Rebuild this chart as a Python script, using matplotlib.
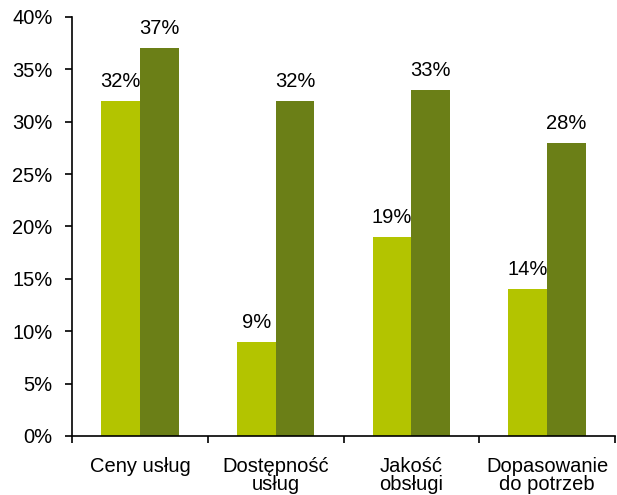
import matplotlib
matplotlib.use("Agg")
import matplotlib.pyplot as plt
import numpy as np

categories = ["Ceny usług", "Dostępność\nusług", "Jakość\nobsługi", "Dopasowanie\ndo potrzeb"]
series_a = [32, 9, 19, 14]
series_b = [37, 32, 33, 28]
yticks = [0, 5, 10, 15, 20, 25, 30, 35, 40]

plt.rcParams['font.family'] = ['Liberation Sans', 'DejaVu Sans']

fig = plt.figure(figsize=(6.17, 4.95), dpi=100)
ax = fig.add_axes([0.1167, 0.1192, 0.8801, 0.8465])

x = np.arange(len(categories))
w = 0.285
light = "#b3c400"
dark = "#6b7f17"
ax.bar(x - w / 2, series_a, width=w, color=light, linewidth=0)
ax.bar(x + w / 2, series_b, width=w, color=dark, linewidth=0)

fs = 14.5
for xi, v in zip(x - w / 2, series_a):
    ax.text(xi, v + 0.95, f"{v}%", ha="center", va="bottom", fontsize=fs)
for xi, v in zip(x + w / 2, series_b):
    ax.text(xi, v + 0.95, f"{v}%", ha="center", va="bottom", fontsize=fs)

ax.set_xlim(-0.5, len(categories) - 0.5)
ax.set_ylim(0, 40)
ax.set_yticks(yticks)
ax.set_yticklabels([f"{t}%" for t in yticks], fontsize=fs)
ax.set_xticks(x)
ax.set_xticklabels(categories, fontsize=fs, linespacing=0.95)
ax.set_xticks(np.arange(len(categories) + 1) - 0.5, minor=True)
ax.tick_params(axis="x", which="major", length=0, pad=15)
ax.tick_params(axis="x", which="minor", length=5, width=1.2, direction="out")
ax.tick_params(axis="y", length=5, width=1.2, direction="out", pad=9)

for s in ["top", "right"]:
    ax.spines[s].set_visible(False)
for s in ["left", "bottom"]:
    ax.spines[s].set_linewidth(1.2)

fig.savefig("out.png", dpi=100)
